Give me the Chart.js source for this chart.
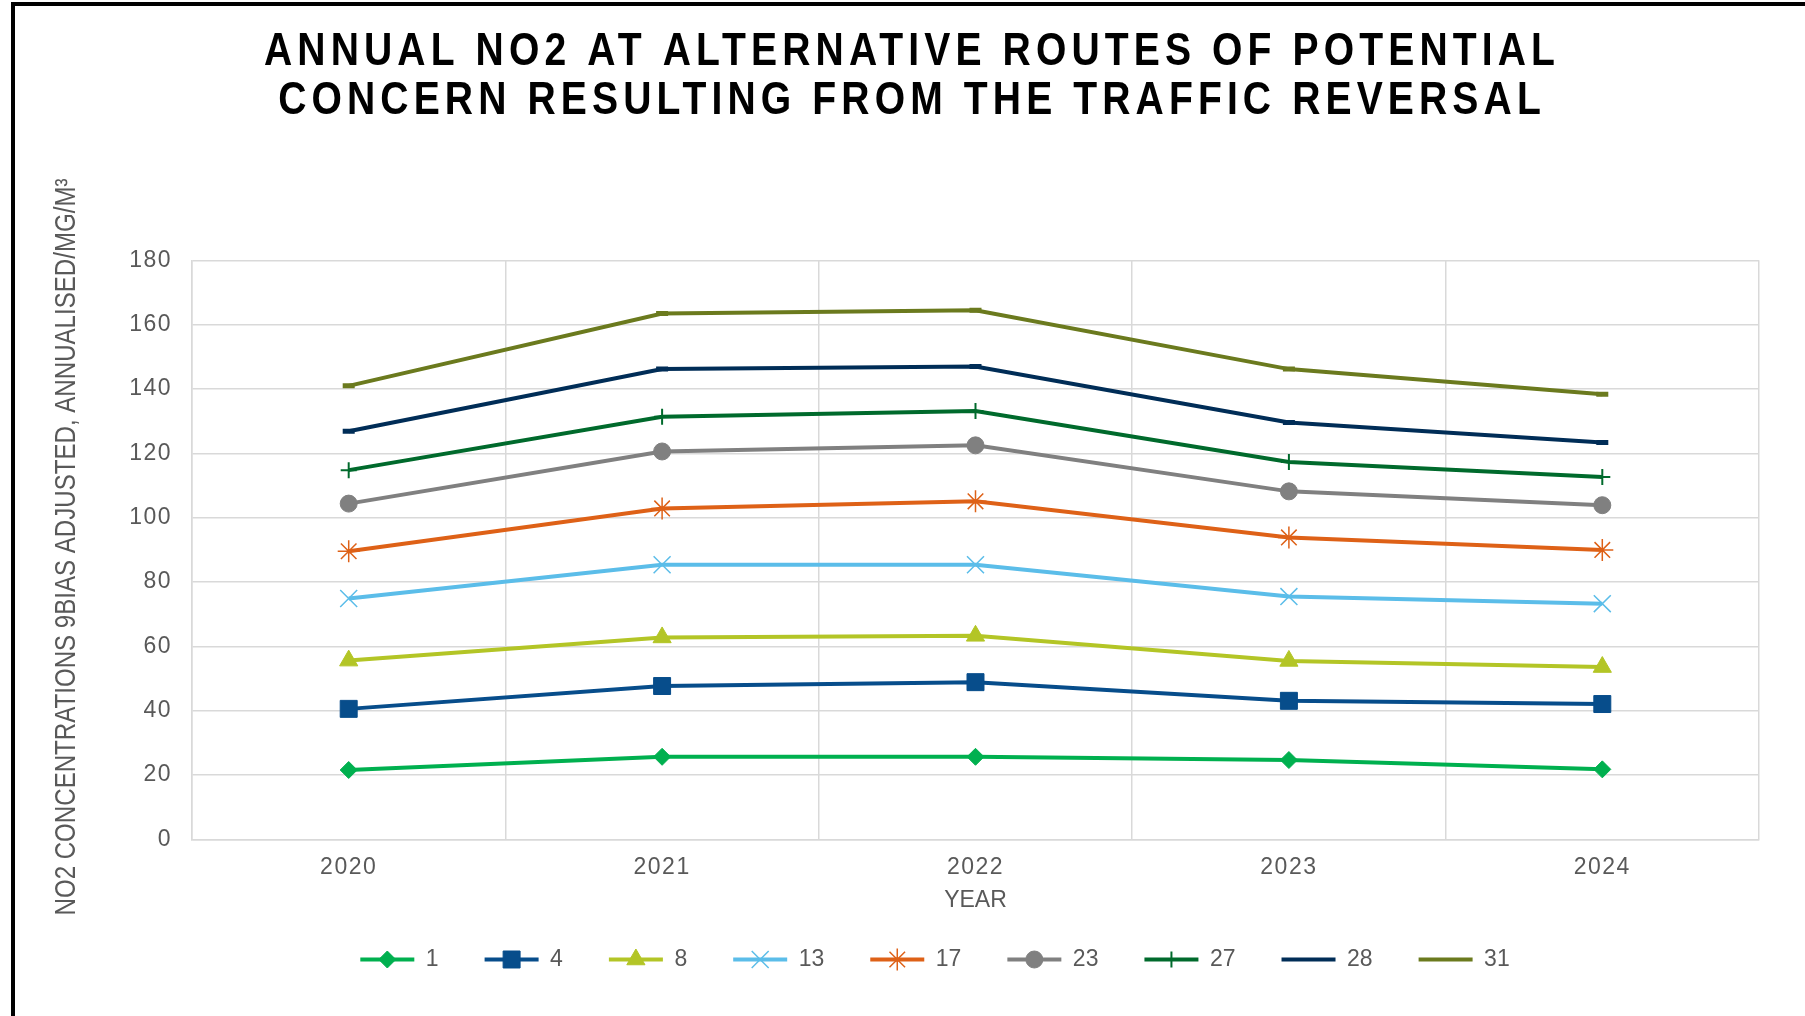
<!DOCTYPE html>
<html>
<head>
<meta charset="utf-8">
<script src="https://cdn.jsdelivr.net/npm/chart.js@4/dist/chart.umd.min.js"></script>
<style>
  body { margin: 0; background: #fff; overflow: hidden; }
  #wrap { position: relative; width: 1805px; height: 1016px; }
  #frame { position: absolute; left: 11px; top: 2px; right: -10px; bottom: -10px;
           border-left: 4px solid #000; border-top: 4px solid #000; pointer-events: none; }
</style>
</head>
<body>
<div id="wrap">
  <canvas id="no2Chart" width="1805" height="1016"></canvas>
  <div id="frame"></div>
</div>
<script>
const years = ['2020', '2021', '2022', '2023', '2024'];
const routes = ['1', '4', '8', '13', '17', '23', '27', '28', '31'];
const s1 = [21.6, 25.7, 25.7, 24.7, 21.8];
const s4 = [40.6, 47.7, 48.9, 43.1, 42.1];
const s8 = [55.6, 62.8, 63.3, 55.5, 53.6];
const s13 = [74.9, 85.4, 85.4, 75.5, 73.3];
const s17 = [89.6, 102.9, 105.1, 93.9, 90.0];
const s23 = [104.4, 120.6, 122.5, 108.2, 103.9];
const s27 = [114.8, 131.4, 133.2, 117.3, 112.7];
const s28 = [126.9, 146.2, 147.0, 129.6, 123.4];
const s31 = [141.0, 163.5, 164.5, 146.2, 138.4];
const yTicks = [0, 20, 40, 60, 80, 100, 120, 140, 160, 180];

const FONT = "'Liberation Sans', Arial, sans-serif";
const GREY = '#595959';

function series(label, data, color, style, radius, pbw) {
  return {
    label: label,
    data: data,
    borderColor: color,
    backgroundColor: color,
    borderWidth: 4,
    tension: 0,
    fill: false,
    pointStyle: style,
    pointRadius: radius,
    pointHoverRadius: radius,
    pointBackgroundColor: color,
    pointBorderColor: color,
    pointBorderWidth: pbw
  };
}

// markers on top of the legend lines
const legendMarkers = {
  id: 'legendMarkers',
  afterDraw(chart) {
    const lg = chart.legend;
    const ctx = chart.ctx;
    const bw = lg.options.labels.boxWidth;
    const fs = lg.options.labels.font.size;
    lg.legendHitBoxes.forEach((hb, i) => {
      const ds = chart.data.datasets[i];
      if (ds.pointStyle === 'line') return;
      ctx.save();
      ctx.fillStyle = ds.pointBackgroundColor;
      ctx.strokeStyle = ds.pointBorderColor;
      ctx.lineWidth = ds.pointBorderWidth;
      Chart.helpers.drawPoint(ctx, {
        pointStyle: ds.pointStyle, radius: ds.pointRadius,
        borderWidth: ds.pointBorderWidth, rotation: 0
      }, hb.left + bw / 2, hb.top + fs / 2);
      ctx.restore();
    });
  }
};

// y axis title, longer than the plot so drawn here
const yTitle = {
  id: 'yTitle',
  afterDraw(chart) {
    const ctx = chart.ctx;
    ctx.save();
    ctx.translate(67, 547);
    ctx.rotate(-Math.PI / 2);
    ctx.font = "29px 'Liberation Sans Narrow', 'Liberation Sans', Arial, sans-serif";
    ctx.fillStyle = GREY;
    ctx.textAlign = 'center';
    ctx.textBaseline = 'middle';
    ctx.fillText('NO2 CONCENTRATIONS 9BIAS ADJUSTED, ANNUALISED/MG/M³', 0, 0, 737);
    ctx.restore();
  }
};

// narrower, letter-spaced title and slightly spaced tick labels
const spacing = {
  id: 'spacing',
  beforeDraw(chart) {
    if (chart.$spaced) return;
    chart.$spaced = true;
    const ctx = chart.ctx;
    const wrap = (obj, name, letter, sx, cx, dx) => {
      const orig = obj[name].bind(obj);
      obj[name] = function(...args) {
        ctx.save();
        ctx.letterSpacing = letter;
        ctx.translate(cx + dx, 0);
        ctx.scale(sx, 1);
        ctx.translate(-cx, 0);
        orig(...args);
        ctx.restore();
      };
    };
    const tb = chart.titleBlock;
    wrap(tb, 'draw', '6px', 0.85, (tb.left + tb.right) / 2, -23);
    wrap(chart.scales.x, 'drawLabels', '1.5px', 1, 0, 0);
    wrap(chart.scales.y, 'drawLabels', '1.5px', 1, 0, 0);
  }
};

new Chart(document.getElementById('no2Chart').getContext('2d'), {
  type: 'line',
  data: {
    labels: years,
    datasets: [
      series(routes[0], s1, '#00b04f', 'rectRot', 8.5, 1),
      series(routes[1], s4, '#074d8b', 'rect', 12, 1),
      series(routes[2], s8, '#b3c526', 'triangle', 10.5, 1),
      series(routes[3], s13, '#5bbde9', 'crossRot', 12, 1.5),
      series(routes[4], s17, '#de6117', 'star', 11, 1.5),
      series(routes[5], s23, '#808080', 'circle', 8.5, 1),
      series(routes[6], s27, '#006a2c', 'cross', 8, 2),
      series(routes[7], s28, '#002d57', 'line', 6, 5),
      series(routes[8], s31, '#6b7a1e', 'line', 6, 5)
    ]
  },
  options: {
    responsive: false,
    animation: false,
    layout: { padding: { top: 4, left: 111, right: 46, bottom: 35 } },
    plugins: {
      title: {
        display: true,
        text: ['ANNUAL NO2 AT ALTERNATIVE ROUTES OF POTENTIAL', 'CONCERN RESULTING FROM THE TRAFFIC REVERSAL'],
        color: '#000',
        font: { family: FONT, size: 46, weight: 'bold', lineHeight: 1.08 },
        padding: { top: 23, bottom: 134 }
      },
      legend: {
        position: 'bottom',
        labels: {
          color: GREY,
          font: { family: FONT, size: 23 },
          boxWidth: 54,
          boxHeight: 4,
          padding: 46,
          generateLabels(chart) {
            return Chart.defaults.plugins.legend.labels.generateLabels(chart).map(l => {
              l.fillStyle = l.strokeStyle;
              l.lineWidth = 0;
              return l;
            });
          }
        }
      },
      tooltip: { enabled: false }
    },
    scales: {
      x: {
        offset: true,
        grid: { color: '#d9d9d9', lineWidth: 1.5, offset: true, drawTicks: false },
        border: { color: '#d9d9d9', width: 1.5 },
        ticks: { color: GREY, font: { family: FONT, size: 23 }, padding: 14 },
        title: {
          display: true, text: 'YEAR', color: GREY,
          font: { family: FONT, size: 23 },
          padding: { top: 0, bottom: -12 }
        },
        afterFit(scale) { scale.height = 62.5; }
      },
      y: {
        min: 0,
        max: 180,
        afterBuildTicks(scale) { scale.ticks = yTicks.map(v => ({ value: v })); },
        grid: { color: '#d9d9d9', lineWidth: 1.5, drawTicks: false },
        border: { color: '#d9d9d9', width: 1.5 },
        ticks: { color: GREY, font: { family: FONT, size: 23 }, padding: 20 },
        afterFit(scale) { scale.width = 81; }
      }
    }
  },
  plugins: [spacing, legendMarkers, yTitle]
});
</script>
</body>
</html>
